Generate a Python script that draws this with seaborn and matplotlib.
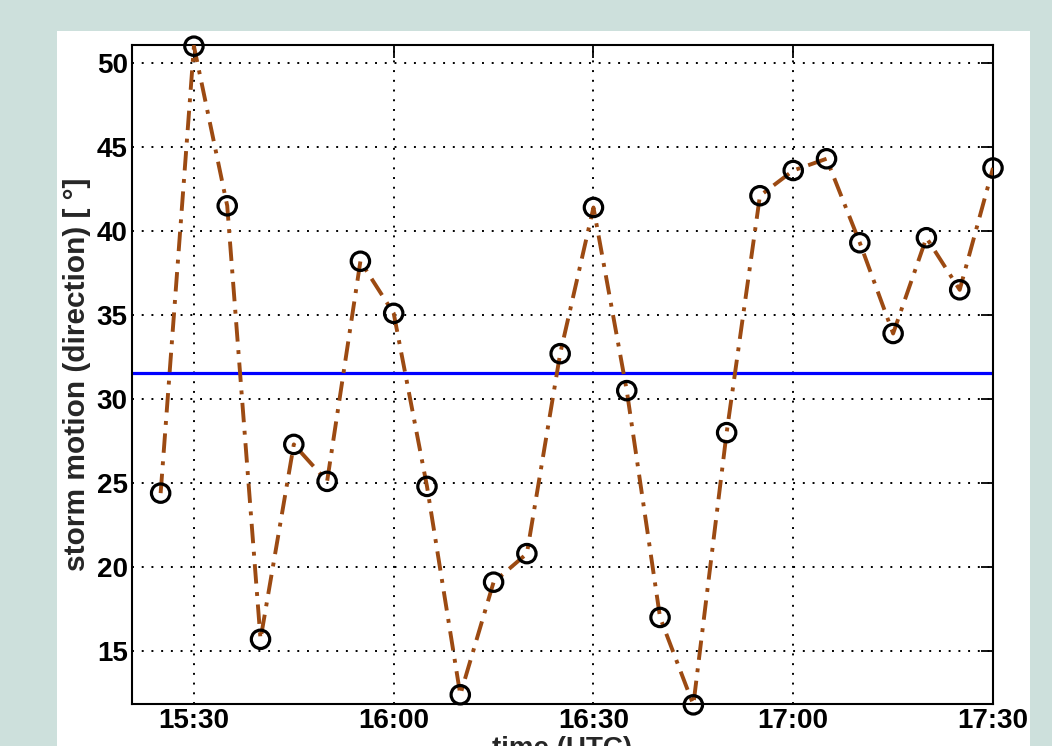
import matplotlib
matplotlib.use("Agg")
import matplotlib.pyplot as plt
import seaborn as sns
import pandas as pd
import numpy as np

# ---- data ----
times = ["15:25", "15:30", "15:35", "15:40", "15:45", "15:50", "15:55", "16:00",
         "16:05", "16:10", "16:15", "16:20", "16:25", "16:30", "16:35", "16:40",
         "16:45", "16:50", "16:55", "17:00", "17:05", "17:10", "17:15", "17:20",
         "17:25", "17:30"]
direction = [24.4, 51.0, 41.5, 15.7, 27.3, 25.1, 38.2, 35.1,
             24.8, 12.4, 19.1, 20.8, 32.7, 41.4, 30.5, 17.0,
             11.8, 28.0, 42.1, 43.6, 44.3, 39.3, 33.9, 39.6,
             36.5, 43.75]
xtick_labels = ["15:30", "16:00", "16:30", "17:00", "17:30"]
ytick_values = [15, 20, 25, 30, 35, 40, 45, 50]

def to_min(s):
    h, m = s.split(":")
    return int(h) * 60 + int(m)

df = pd.DataFrame({"t": [to_min(s) for s in times], "dir": direction})
mean_dir = float(np.mean(direction))

sns.set_style("white")
plt.rcParams["font.family"] = ["Liberation Sans", "DejaVu Sans"]

fig = plt.figure(figsize=(10.52, 7.46), dpi=100)
fig.patch.set_facecolor("#cde0dc")
# white panel
fig.add_artist(plt.Rectangle((57 / 1052, 0), (1030 - 57) / 1052, 1 - 31 / 746,
                             transform=fig.transFigure, facecolor="white",
                             edgecolor="none", zorder=0))

ax = fig.add_axes([132 / 1052, 1 - 704 / 746, (993 - 132) / 1052, (704 - 45) / 746])
ax.set_facecolor("white")

ax.axhline(mean_dir, color="#0000ff", lw=2.3, zorder=2)

sns.lineplot(data=df, x="t", y="dir", ax=ax, color="#9c4a12", lw=2.8,
             linestyle=(0, (5, 2.2, 1, 2.2)), zorder=3)
sns.scatterplot(data=df, x="t", y="dir", ax=ax, marker="o", s=175,
                facecolor="none", edgecolor="black", linewidth=2.3,
                zorder=4, clip_on=False)

ax.set_xlim(to_min("15:20") + 0.7, to_min("17:30"))
ax.set_ylim(11.85, 51.07)
ax.set_xticks([to_min(s) for s in xtick_labels])
ax.set_xticklabels(xtick_labels)
ax.set_yticks(ytick_values)

ax.grid(True, color="black", linestyle=(0, (1, 4)), lw=1.4)
ax.tick_params(direction="in", length=9, width=1.3, top=True, right=True,
               labelsize=20, pad=3, colors="black")
for lab in ax.get_xticklabels() + ax.get_yticklabels():
    lab.set_fontweight("bold")
for sp in ax.spines.values():
    sp.set_visible(True)
    sp.set_color("black")
    sp.set_linewidth(1.5)

ax.set_xlabel("time (UTC)", fontsize=20, fontweight="bold", labelpad=1)
ax.set_ylabel("storm motion (direction) [ °]", fontsize=21.5, fontweight="bold",
              labelpad=4)

fig.savefig("out.png", dpi=100, facecolor=fig.get_facecolor())
